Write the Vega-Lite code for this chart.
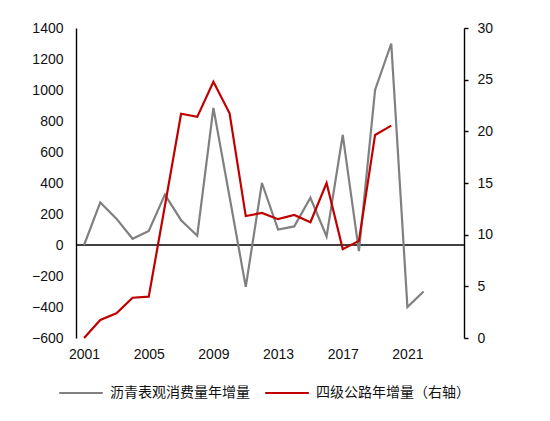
{
  "$schema": "https://vega.github.io/schema/vega-lite/v6.json",
  "width": 388,
  "height": 310,
  "autosize": {"type": "none"},
  "padding": {"left": 76, "top": 28, "right": 86, "bottom": 83},
  "background": "white",
  "datasets": {
    "asphalt": [
      {"year": 2001, "series": "沥青表观消费量年增量", "value": 0},
      {"year": 2002, "series": "沥青表观消费量年增量", "value": 275},
      {"year": 2003, "series": "沥青表观消费量年增量", "value": 170},
      {"year": 2004, "series": "沥青表观消费量年增量", "value": 40},
      {"year": 2005, "series": "沥青表观消费量年增量", "value": 90},
      {"year": 2006, "series": "沥青表观消费量年增量", "value": 325},
      {"year": 2007, "series": "沥青表观消费量年增量", "value": 160},
      {"year": 2008, "series": "沥青表观消费量年增量", "value": 60},
      {"year": 2009, "series": "沥青表观消费量年增量", "value": 885},
      {"year": 2010, "series": "沥青表观消费量年增量", "value": 310},
      {"year": 2011, "series": "沥青表观消费量年增量", "value": -270},
      {"year": 2012, "series": "沥青表观消费量年增量", "value": 400},
      {"year": 2013, "series": "沥青表观消费量年增量", "value": 100},
      {"year": 2014, "series": "沥青表观消费量年增量", "value": 120},
      {"year": 2015, "series": "沥青表观消费量年增量", "value": 305},
      {"year": 2016, "series": "沥青表观消费量年增量", "value": 55},
      {"year": 2017, "series": "沥青表观消费量年增量", "value": 710},
      {"year": 2018, "series": "沥青表观消费量年增量", "value": -40},
      {"year": 2019, "series": "沥青表观消费量年增量", "value": 1000},
      {"year": 2020, "series": "沥青表观消费量年增量", "value": 1300},
      {"year": 2021, "series": "沥青表观消费量年增量", "value": -400},
      {"year": 2022, "series": "沥青表观消费量年增量", "value": -300}
    ],
    "roads": [
      {"year": 2001, "series": "四级公路年增量（右轴）", "value": 0},
      {"year": 2002, "series": "四级公路年增量（右轴）", "value": 1.75},
      {"year": 2003, "series": "四级公路年增量（右轴）", "value": 2.4},
      {"year": 2004, "series": "四级公路年增量（右轴）", "value": 3.9},
      {"year": 2005, "series": "四级公路年增量（右轴）", "value": 4.0},
      {"year": 2006, "series": "四级公路年增量（右轴）", "value": 12.8},
      {"year": 2007, "series": "四级公路年增量（右轴）", "value": 21.7},
      {"year": 2008, "series": "四级公路年增量（右轴）", "value": 21.4},
      {"year": 2009, "series": "四级公路年增量（右轴）", "value": 24.8},
      {"year": 2010, "series": "四级公路年增量（右轴）", "value": 21.75},
      {"year": 2011, "series": "四级公路年增量（右轴）", "value": 11.8},
      {"year": 2012, "series": "四级公路年增量（右轴）", "value": 12.1},
      {"year": 2013, "series": "四级公路年增量（右轴）", "value": 11.5},
      {"year": 2014, "series": "四级公路年增量（右轴）", "value": 11.9},
      {"year": 2015, "series": "四级公路年增量（右轴）", "value": 11.2},
      {"year": 2016, "series": "四级公路年增量（右轴）", "value": 15.0},
      {"year": 2017, "series": "四级公路年增量（右轴）", "value": 8.6},
      {"year": 2018, "series": "四级公路年增量（右轴）", "value": 9.4},
      {"year": 2019, "series": "四级公路年增量（右轴）", "value": 19.65},
      {"year": 2020, "series": "四级公路年增量（右轴）", "value": 20.55}
    ],
    "zero": [{"value": 0}]
  },
  "layer": [
    {
      "data": {"name": "zero"},
      "mark": {"type": "rule", "color": "black", "strokeWidth": 1.5},
      "encoding": {
        "y": {
          "field": "value",
          "type": "quantitative",
          "scale": {"domain": [-600, 1400], "nice": false},
          "axis": null
        }
      }
    },
    {
      "data": {"name": "asphalt"},
      "mark": {"type": "line", "strokeWidth": 2.2},
      "encoding": {
        "x": {
          "field": "year",
          "type": "quantitative",
          "scale": {"domain": [2000.5, 2024.5], "nice": false, "zero": false},
          "axis": {
            "title": null,
            "values": [2001, 2005, 2009, 2013, 2017, 2021],
            "format": "d",
            "domain": false,
            "ticks": false,
            "grid": false,
            "labelPadding": 9,
            "labelFlush": false
          }
        },
        "y": {
          "field": "value",
          "type": "quantitative",
          "scale": {"domain": [-600, 1400], "nice": false},
          "axis": {
            "orient": "left",
            "title": null,
            "values": [-600, -400, -200, 0, 200, 400, 600, 800, 1000, 1200, 1400],
            "format": "d",
            "grid": false,
            "ticks": false,
            "domainColor": "black",
            "domainWidth": 1.4,
            "labelPadding": 13
          }
        },
        "color": {
          "field": "series",
          "type": "nominal",
          "scale": {
            "domain": ["沥青表观消费量年增量", "四级公路年增量（右轴）"],
            "range": ["#808080", "#C00000"]
          },
          "legend": {
            "title": null,
            "orient": "none",
            "direction": "horizontal",
            "legendX": -18,
            "legendY": 342,
            "symbolType": "stroke",
            "symbolSize": 1900,
            "symbolStrokeWidth": 2.2,
            "labelFont": "Noto Sans CJK SC",
            "labelFontSize": 14,
            "labelColor": "#111111",
            "labelOffset": 6,
            "columnPadding": 10
          }
        }
      }
    },
    {
      "data": {"name": "roads"},
      "mark": {"type": "line", "strokeWidth": 2.2},
      "encoding": {
        "x": {"field": "year", "type": "quantitative"},
        "y": {
          "field": "value",
          "type": "quantitative",
          "scale": {"domain": [0, 30], "nice": false},
          "axis": {
            "orient": "right",
            "title": null,
            "values": [0, 5, 10, 15, 20, 25, 30],
            "grid": false,
            "ticks": true,
            "tickSize": 4,
            "tickColor": "black",
            "tickWidth": 1.4,
            "domainColor": "black",
            "domainWidth": 1.4,
            "labelPadding": 9
          }
        },
        "color": {"field": "series", "type": "nominal"}
      }
    }
  ],
  "resolve": {"scale": {"y": "independent"}},
  "config": {
    "view": {"stroke": null},
    "axis": {
      "labelFont": "Liberation Sans",
      "labelFontSize": 14,
      "labelColor": "#111111"
    }
  }
}
